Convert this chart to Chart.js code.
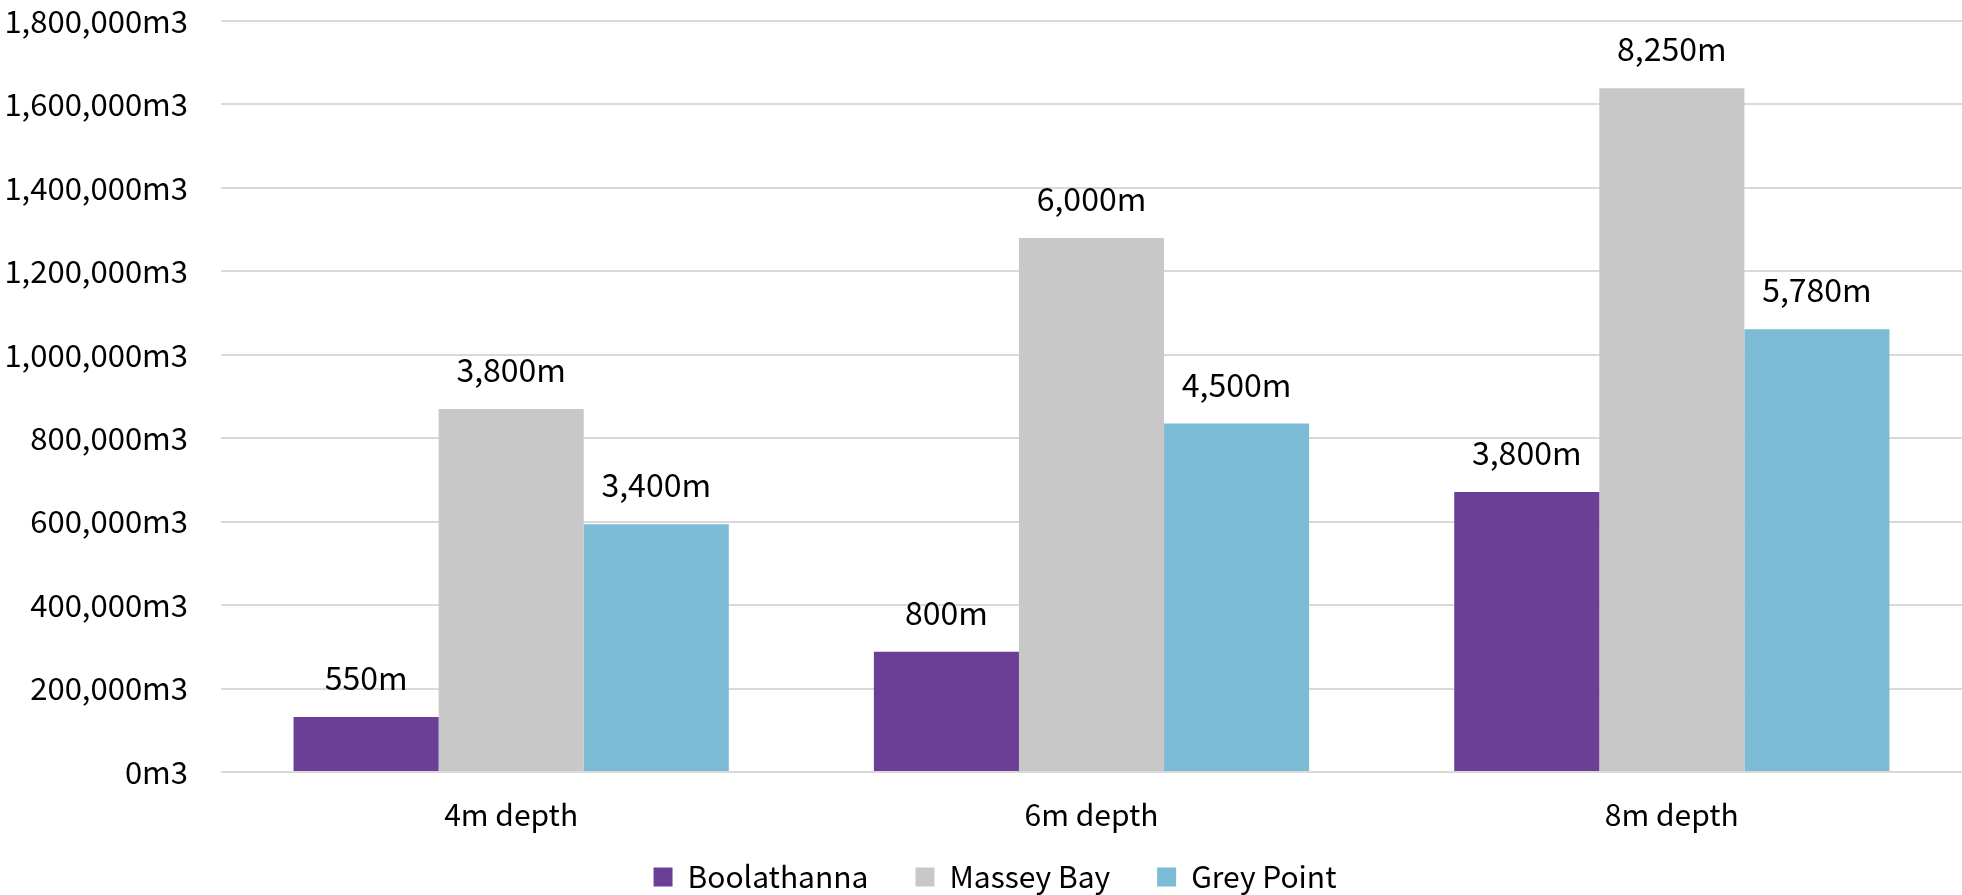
<!DOCTYPE html>
<html>
<head>
<meta charset="utf-8">
<script src="https://cdn.jsdelivr.net/npm/chart.js@4/dist/chart.umd.min.js"></script>
<style>
  html, body { margin: 0; padding: 0; background: #ffffff; }
  #wrap { width: 1962px; height: 895px; position: relative; }
</style>
</head>
<body>
<div id="wrap"><canvas id="chart" width="1962" height="895"></canvas></div>
<script>
// Excavation volume by dredge depth, per site
const categories = ['4m depth', '6m depth', '8m depth'];
const seriesNames = ['Boolathanna', 'Massey Bay', 'Grey Point'];

// Volumes (m3)
const boolathannaVolume = [132000, 288000, 671000];
const masseyBayVolume   = [870000, 1280000, 1639000];
const greyPointVolume   = [594000, 835000, 1061000];

// Channel lengths (m) shown above each bar
const boolathannaLength = [550, 800, 3800];
const masseyBayLength   = [3800, 6000, 8250];
const greyPointLength   = [3400, 4500, 5780];

const yMax = 1800000;
const yStep = 200000;

const FONT = '"Noto Sans CJK JP", "Noto Sans", sans-serif';
const colors = ['#6C3F96', '#C8C8C8', '#7CBBD6'];

const fmt = n => n.toLocaleString('en-US');

const lengthLabels = [boolathannaLength, masseyBayLength, greyPointLength];

// Draws the length label above each bar
const barLabels = {
  id: 'barLabels',
  afterDatasetsDraw(chart) {
    const ctx = chart.ctx;
    ctx.save();
    ctx.font = '32px ' + FONT;
    ctx.fillStyle = '#000000';
    ctx.textAlign = 'center';
    ctx.textBaseline = 'alphabetic';
    chart.data.datasets.forEach((ds, i) => {
      const meta = chart.getDatasetMeta(i);
      meta.data.forEach((bar, j) => {
        ctx.fillText(fmt(lengthLabels[i][j]) + 'm', bar.x, bar.y - 27);
      });
    });
    ctx.restore();
  }
};

// Lets the category labels overhang into the legend band and
// nudges the legend row a little lower and to the right
const bottomBand = {
  id: 'bottomBand',
  afterLayout(chart) {
    if (chart.scales.x) {
      chart.scales.x.bottom = chart.height;
    }
    if (chart.legend) {
      chart.legend.top += 7;
      chart.legend.bottom += 7;
      chart.legend.left += 14;
      chart.legend.right += 14;
    }
  }
};

new Chart(document.getElementById('chart'), {
  type: 'bar',
  data: {
    labels: categories,
    datasets: [
      { label: seriesNames[0], data: boolathannaVolume, backgroundColor: colors[0] },
      { label: seriesNames[1], data: masseyBayVolume, backgroundColor: colors[1] },
      { label: seriesNames[2], data: greyPointVolume, backgroundColor: colors[2] }
    ]
  },
  options: {
    responsive: false,
    animation: false,
    devicePixelRatio: 1,
    layout: { padding: { top: 21, right: 0, left: 0, bottom: 0 } },
    datasets: {
      bar: { categoryPercentage: 0.75, barPercentage: 1.0, borderWidth: 0 }
    },
    plugins: {
      legend: {
        position: 'bottom',
        labels: {
          font: { family: FONT, size: 30 },
          color: '#000000',
          boxWidth: 19,
          boxHeight: 19,
          padding: 47
        }
      },
      tooltip: { enabled: false }
    },
    scales: {
      x: {
        grid: { display: false, drawTicks: false },
        border: { display: false },
        ticks: {
          font: { family: FONT, size: 30 },
          color: '#000000',
          padding: 25
        },
        afterFit(scale) { scale.height = 36; }
      },
      y: {
        min: 0,
        max: yMax,
        grid: { color: '#D9D9D9', lineWidth: 2, drawTicks: false },
        border: { display: false },
        ticks: {
          stepSize: yStep,
          font: { family: FONT, size: 31 },
          color: '#000000',
          padding: 33,
          callback: v => fmt(v) + 'm3'
        },
        afterFit(scale) {
          scale.width = 221;
          scale.paddingTop = 0;
          scale.paddingBottom = 0;
        }
      }
    }
  },
  plugins: [barLabels, bottomBand]
});
</script>
</body>
</html>
